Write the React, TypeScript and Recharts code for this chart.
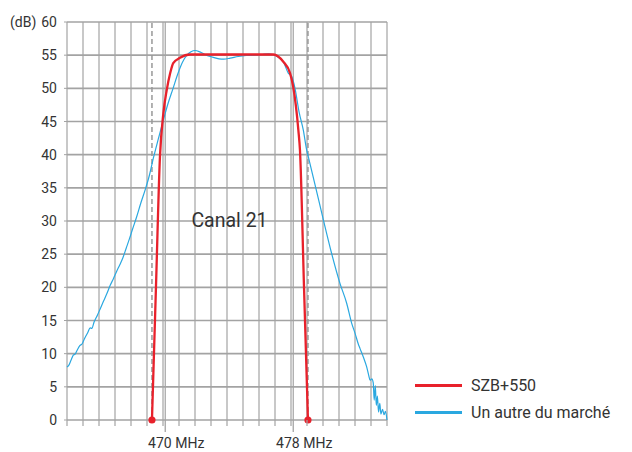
import React from "react";
import {
  LineChart,
  Line,
  XAxis,
  YAxis,
  CartesianGrid,
  ReferenceLine,
} from "recharts";

// x in MHz, y in dB
const redFreq = [469.31, 469.56, 469.81, 470.02, 470.23, 470.45, 470.64, 471.06, 471.69, 476.9, 477.52, 477.94, 478.14, 478.46, 478.56, 478.81, 479.06];
const redDb = [0, 20, 39.7, 46.2, 49.7, 52.3, 53.8, 54.6, 55.1, 55.1, 54.0, 52.3, 50.2, 43.7, 40.7, 20.3, 0];

const blueFreq = [
  464.0, 464.1, 464.25, 464.4, 464.5, 464.65, 464.8, 464.95, 465.1, 465.3, 465.45, 465.55, 465.7, 465.9,
  466.1, 466.3, 466.5, 466.7, 466.9, 467.1, 467.3, 467.5, 467.7, 467.9, 468.1, 468.35, 468.6, 468.9,
  469.15, 469.4, 469.7, 470.0, 470.3, 470.63, 470.9, 471.1, 471.3, 471.5, 471.75, 472.0, 472.3, 472.7,
  473.1, 473.5, 473.8, 474.2, 474.7, 475.2, 475.7, 476.2, 476.6, 476.85, 477.2, 477.52, 477.83, 478.04,
  478.25, 478.5, 478.77, 478.98, 479.08, 479.5, 480.02, 480.54, 481.06, 481.48, 481.79, 482.0, 482.2,
  482.31, 482.52, 482.73, 482.85, 482.94, 483.05, 483.14, 483.2, 483.27, 483.33, 483.4, 483.47, 483.55,
  483.62, 483.72, 483.82, 483.9, 484.0,
];
const blueDb = [
  8.0, 8.2, 9.0, 9.8, 9.9, 10.6, 11.2, 11.5, 12.3, 13.2, 13.9, 13.8, 14.8, 15.8,
  16.9, 18.0, 19.1, 20.3, 21.3, 22.4, 23.4, 24.5, 25.9, 27.3, 28.8, 30.6, 32.6, 34.8,
  36.9, 39.5, 42.3, 45.0, 47.6, 50.0, 52.0, 53.3, 54.3, 55.0, 55.5, 55.7, 55.5, 55.0,
  54.7, 54.45, 54.4, 54.55, 54.8, 54.95, 55.0, 55.1, 55.2, 55.1, 54.7, 54.0, 52.3, 51.8,
  50.0, 46.5, 43.7, 40.7, 39.7, 35.5, 30.2, 25.1, 20.6, 17.6, 14.6, 13.1, 11.5,
  10.8, 9.5, 8.0, 6.8, 6.0, 6.2, 5.6, 3.0, 5.2, 2.2, 3.6, 1.2, 2.5,
  0.9, 1.6, 0.8, 1.3, 0,
];

const gridTicks = [464, 465, 466, 467, 468, 469, 470, 471, 472, 473, 474, 475, 476, 477, 478, 479, 480, 481, 482, 483, 484];
const markerTicks = [470.14, 478.14];
const markerLabels = ["470 MHz", "478 MHz"];
const dashedFreq = [469.31, 479.06];
const yTicks = [0, 5, 10, 15, 20, 25, 30, 35, 40, 45, 50, 55, 60];
const seriesNames = ["SZB+550", "Un autre du marché"];

const redData = redFreq.map((f, i) => ({ f, v: redDb[i] }));
const blueData = blueFreq.map((f, i) => ({ f, v: blueDb[i] }));

const RED = "#e8212b";
const BLUE = "#2aa8e0";
const GRID = "#a3a3a3";
const TEXT = "#333333";
const FONT = "Roboto, sans-serif";

const XTick = (props: any) => {
  const { x, y, payload } = props;
  const m = markerTicks.indexOf(payload.value);
  if (m >= 0) {
    return (
      <g>
        <line x1={x} y1={y} x2={x} y2={y + 12} stroke={GRID} strokeWidth={1.3} />
        <text x={x + 11} y={y + 28} textAnchor="middle" fill={TEXT} fontSize={14} fontFamily={FONT}>
          {markerLabels[m]}
        </text>
      </g>
    );
  }
  return <line x1={x} y1={y} x2={x} y2={y + 6} stroke={GRID} strokeWidth={1.2} />;
};

const YTick = (props: any) => {
  const { x, y, payload } = props;
  return (
    <g>
      {payload.value === 60 && (
        <text x={10} y={y} dy="0.36em" fill={TEXT} fontSize={14} fontFamily={FONT}>
          (dB)
        </text>
      )}
      <text x={x} y={y} dy="0.36em" textAnchor="end" fill={TEXT} fontSize={14} fontFamily={FONT}>
        {payload.value}
      </text>
    </g>
  );
};

const redDot = (p: any) => {
  if (p.index === 0 || p.index === redData.length - 1) {
    return <circle key={p.index} cx={p.cx} cy={p.cy} r={3.6} fill={RED} />;
  }
  return <g key={p.index} />;
};

export default function App() {
  return (
    <div style={{ position: "absolute", left: 0, top: 0, width: 632, height: 452 }}>
      <LineChart width={632} height={452} margin={{ top: 22, right: 245, left: 7, bottom: 2 }}>
        <CartesianGrid vertical={false} stroke={GRID} strokeWidth={1.6} />
        <CartesianGrid horizontal={false} stroke={GRID} strokeWidth={1.2} />
        <XAxis
          type="number"
          dataKey="f"
          domain={[464, 484]}
          ticks={[...gridTicks, ...markerTicks].sort((a, b) => a - b)}
          interval={0}
          axisLine={false}
          tickLine={false}
          tickSize={0}
          tickMargin={0}
          tick={<XTick />}
          height={30}
        />
        <YAxis
          type="number"
          domain={[0, 60]}
          ticks={yTicks}
          interval={0}
          axisLine={false}
          tickLine={{ stroke: GRID }}
          tickSize={3}
          tickMargin={7}
          tick={<YTick />}
          width={60}
        />
        {dashedFreq.map((f) => (
          <ReferenceLine key={f} x={f} stroke="#999999" strokeWidth={1.5} strokeDasharray="5 3" />
        ))}
        <Line
          data={blueData}
          dataKey="v"
          type="monotone"
          stroke={BLUE}
          strokeWidth={1.2}
          dot={false}
          isAnimationActive={false}
        />
        <Line
          data={redData}
          dataKey="v"
          type="monotone"
          stroke={RED}
          strokeWidth={2.3}
          dot={redDot}
          isAnimationActive={false}
        />
        <text x={229.5} y={226.7} textAnchor="middle" fill={TEXT} fontSize={19.5} fontFamily={FONT}>
          Canal 21
        </text>
      </LineChart>
      <div
        style={{
          position: "absolute",
          left: 415,
          top: 371.5,
          fontFamily: FONT,
          fontSize: 16,
          color: TEXT,
        }}
      >
        {seriesNames.map((t, i) => (
          <div key={t} style={{ display: "flex", alignItems: "center", height: 27 }}>
            <div style={{ width: 47, height: 3, background: i === 0 ? RED : BLUE, marginRight: 9 }} />
            <span style={{ whiteSpace: "nowrap" }}>{t}</span>
          </div>
        ))}
      </div>
    </div>
  );
}
